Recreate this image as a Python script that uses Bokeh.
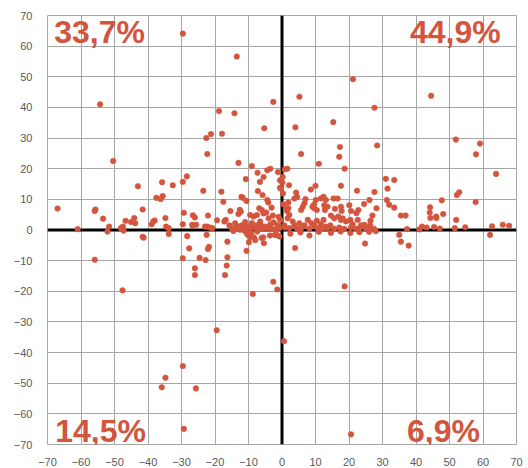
from bokeh.plotting import figure
from bokeh.models import Span, Label, FixedTicker, Range1d
from bokeh.embed import file_html
from bokeh.resources import INLINE

# Quadrant I (x>0, y>0)
x_q1 = [21.2, 5.2, 44.5, 27.6, 4.0, 15.3, 28.4, 17.3, 17.1, 5.7, 51.9, 59.1, 57.9, 63.9, 11.0, 18.7,
        0.8, 1.6, 0.2, 0.1, 0.3, 2.1, 10.0, 8.6, 17.6, 31.0, 33.5, 31.5, 31.3, 32.0, 33.5, 35.5, 36.9,
        22.4, 27.6, 26.1, 24.5, 22.8, 22.2, 28.2, 27.0, 26.4, 52.2, 52.9, 47.7, 57.8, 44.2, 44.1, 44.3,
        46.0, 46.1, 48.1, 52.0, 51.6, 62.7, 65.9, 67.8, 37.3, 41.0, 41.8, 43.2, 45.4, 47.1, 54.7,
        4.2, 3.7, 4.5, 1.9, 1.9, 1.5, 2.2, 7.0, 6.7, 6.2, 5.7, 10.1, 9.6, 9.1, 9.6, 10.4, 11.6, 12.4,
        13.1, 12.6, 13.6, 12.8, 15.4, 15.8, 16.6, 17.6, 17.8, 20.1, 20.6, 0.4, 1.4,
        14.6, 15.6, 16.8, 17.6, 18.1, 19.1, 20.4, 21.1, 22.6, 23.6, 24.6, 25.7, 26.3, 27.5, 1.7, 3.2,
        3.7, 5.2, 6.7, 7.7, 8.8, 9.6, 10.4, 11.6, 12.4, 13.1, 14.4, 0.7, 0.9, 2.2, 4.5, 5.7, 8.2, 10.6,
        12.1, 13.6, 15.6, 17.1, 18.6, 20.6, 22.1, 23.1, 25.0, 26.5]
y_q1 = [49.2, 43.5, 43.8, 39.9, 33.5, 35.2, 27.6, 27.1, 23.9, 24.8, 29.5, 28.2, 24.7, 18.3, 21.6, 20.0,
        19.8, 20.0, 17.3, 15.5, 11.9, 14.6, 14.4, 13.2, 14.4, 16.7, 16.3, 13.5, 9.8, 8.2, 7.3, 4.7, 4.7,
        12.8, 12.4, 9.8, 8.5, 6.5, 5.5, 7.1, 4.7, 3.0, 11.4, 12.3, 9.7, 9.1, 7.4, 5.7, 3.9,
        4.4, 3.9, 5.2, 3.3, 0.6, 1.2, 1.7, 1.4, 0.3, 0.2, 1.1, 0.8, 1.0, 0.5, 0.9,
        12.2, 10.3, 10.8, 9.0, 7.1, 6.2, 4.9, 10.1, 8.7, 7.6, 6.5, 9.8, 8.4, 7.6, 7.1, 6.5, 10.3, 10.8,
        9.8, 8.1, 7.6, 6.5, 10.3, 6.9, 10.3, 7.6, 6.2, 8.1, 6.2, 8.4, 7.1,
        4.7, 3.8, 4.4, 3.3, 3.8, 2.8, 3.3, 1.9, 3.3, 1.5, 1.7, 0.6, 1.5, 0.4, 3.8, 2.8,
        1.5, 2.2, 1.5, 3.3, 2.2, 1.5, 3.0, 1.9, 3.3, 1.1, 1.5, 1.5, 0.8, 0.6, 0.4, 0.6, 0.4, 0.6,
        0.4, 0.6, 0.4, 0.8, 0.4, 0.8, 0.4, 0.6, 0.4, 0.1]

# Quadrant II (x<0, y>0)
x_q2 = [-67.0, -61.0, -54.3, -55.9, -55.7, -53.4, -51.6, -50.4, -48.1, -47.5, -46.7, -45.1, -44.1, -43.8,
        -43.0, -41.6, -38.9, -38.4, -38.0, -37.5, -36.2, -35.6, -35.8, -34.8, -34.6, -33.8, -32.6, -29.6,
        -29.6, -28.4, -29.3, -29.6, -26.6, -26.0, -26.8, -25.6, -23.5, -22.6, -22.3, -21.2, -22.1, -22.3,
        -20.8, -19.4, -18.8, -17.9, -18.1, -17.5, -17.2, -16.8, -15.4, -14.2, -13.5, -13.0, -10.8, -9.0,
        -12.1, -11.7, -10.6, -12.6, -12.3, -13.0, -7.3, -6.6, -7.2, -5.8, -5.3, -2.6, -4.4, -3.5, -5.5,
        -4.4, -4.1, -3.1, -1.2, -0.6, -6.8, -9.5, -8.5, -7.5, -6.0, -5.5, -4.7, -4.0, -2.7, -1.0, -0.5,
        -0.6, -0.3,
        -26.7, -23.0, -21.5, -15.7, -15.0, -13.5, -13.0, -12.5, -12.0, -11.5, -10.6, -9.6, -9.1, -8.4,
        -7.6, -7.1, -6.4, -5.8, -5.1, -4.4, -3.8, -3.1, -1.4, -0.8, -2.1,
        -2.5, -6.5, -9.0, -11.0, -14.0, -3.5]
y_q2 = [7.0, 0.3, 41.0, 6.2, 6.7, 3.7, 1.1, 22.5, 0.6, 1.1, 3.0, 2.6, 3.9, 2.2,
        14.3, 6.7, 1.9, 2.8, 3.1, 10.5, 10.1, 11.1, 15.6, 3.9, 1.1, 0.6, 14.6, 64.1,
        15.7, 17.5, 5.6, 1.9, 4.8, 4.1, 1.7, 1.7, 12.8, 30.0, 24.8, 31.3, 4.7, 1.1,
        0.6, 3.2, 38.8, 31.4, 12.5, 9.2, 2.8, 3.3, 6.2, 38.1, 56.6, 21.9, 16.6, 20.9,
        10.8, 10.5, 9.5, 6.6, 6.0, 5.2, 18.7, 15.7, 12.7, 11.4, 33.2, 41.8, 19.5, 20.0, 17.3,
        9.8, 9.0, 7.3, 18.9, 13.8, 7.1, 4.9, 4.4, 4.9, 6.5, 5.4, 5.7, 3.8, 4.7, 4.3, 3.2,
        16.2, 13.5,
        1.5, 1.1, 0.8, 1.5, 0.6, 0.6, 1.1, 0.1, 1.5, 0.6, 1.1, 0.1, 1.7, 0.8,
        1.5, 0.6, 1.7, 0.4, 1.1, 0.6, 1.1, 0.4, 1.5, 0.6, 0.1,
        2.5, 2.8, 2.3, 2.6, 2.2, 1.8]

# Quadrant III (x<0, y<0)
x_q3 = [-55.9, -52.1, -47.6, -47.3, -41.6, -41.3, -33.8, -29.6, -28.3, -27.7, -26.0, -26.0, -24.6, -22.8,
        -22.5, -22.1, -21.8, -19.5, -29.6, -34.8, -35.9, -25.7, -29.3, -16.3, -16.3, -16.5, -17.0, -10.6,
        -9.9, -8.7, -8.0, -5.4, -5.6, -2.6, -1.4, -10.4, -9.2, -7.4, -1.6, -10.0, -9.6, -8.4, -6.1, -3.6,
        -2.1, -0.8, -14.5, -11.1]
y_q3 = [-9.7, -0.5, -19.7, -0.2, -2.2, -2.5, -1.3, -9.2, -2.0, -6.0, -12.5, -14.7, -9.1, -9.8,
        -1.6, -6.2, -5.5, -32.7, -44.4, -48.2, -51.3, -51.7, -64.9, -3.8, -8.9, -11.6, -14.7, -6.8,
        -4.0, -20.9, -3.3, -4.3, -2.4, -16.9, -19.4, -1.4, -1.1, -0.5, -1.6, -1.6, -2.4, -2.4, -2.6, -1.8,
        -1.6, -2.1, -0.3, -0.3]

# Quadrant IV (x>0, y<0)
x_q4 = [0.6, 20.6, 18.7, 3.9, 8.2, 24.8, 35.0, 35.5, 37.8, 62.1, 23.1, 20.4, 14.6, 2.5, 5.5, 11.0,
        17.5, 26.0, 28.0]
y_q4 = [-36.3, -66.7, -18.4, -5.9, -1.8, -4.4, -1.6, -3.8, -5.1, -1.6, -0.7, -1.0, -1.0, -1.2, -0.8, -0.6,
        -0.5, -0.6, -0.4]

ticks = list(range(-70, 71, 10))
quadrant_labels = ["33,7%", "44,9%", "14,5%", "6,9%"]

xs = x_q1 + x_q2 + x_q3 + x_q4
ys = y_q1 + y_q2 + y_q3 + y_q4

RED = "#D4553D"
GRID = "#a6a6a6"

p = figure(width=528, height=468, x_range=Range1d(-70, 70), y_range=Range1d(-70, 70),
           output_backend="svg", toolbar_location=None,
           min_border_left=47, min_border_right=12, min_border_top=15, min_border_bottom=20)
p.background_fill_color = "white"
p.border_fill_color = "white"
p.outline_line_color = GRID
p.outline_line_width = 1

for ax in (p.xaxis, p.yaxis):
    ax.ticker = FixedTicker(ticks=ticks)
    ax.axis_line_color = None
    ax.major_tick_line_color = None
    ax.minor_tick_line_color = None
    ax.major_label_text_font = "Liberation Sans"
    ax.major_label_text_font_size = "11px"
    ax.major_label_text_color = "#595959"
p.xaxis.major_label_standoff = 7
p.yaxis.major_label_standoff = 9

p.xgrid.grid_line_color = GRID
p.ygrid.grid_line_color = GRID
p.xgrid.grid_line_width = 1
p.ygrid.grid_line_width = 1

p.add_layout(Span(location=0, dimension="height", line_color="black", line_width=3, level="underlay"))
p.add_layout(Span(location=0, dimension="width", line_color="black", line_width=3, level="underlay"))

p.scatter(xs, ys, size=5.6, fill_color=RED, line_color=RED, line_width=0.5)

label_specs = [(-68, 64.7, "left"), (65.3, 64.7, "right"), (-67.7, -65.5, "left"), (59.1, -65.6, "right")]
for (lx, ly, al), txt in zip(label_specs, quadrant_labels):
    p.add_layout(Label(x=lx, y=ly, text=txt, text_font="Liberation Sans", text_font_style="bold",
                       text_font_size="32px", text_color=RED, text_align=al,
                       text_baseline="middle"))

open("out.html", "w").write(file_html(p, INLINE))
